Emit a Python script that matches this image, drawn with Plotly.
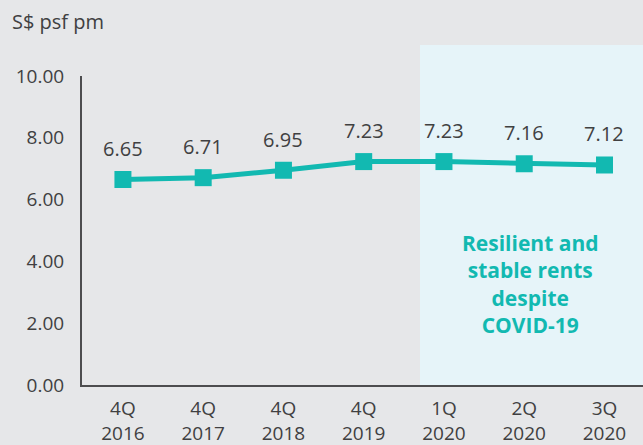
import plotly.graph_objects as go

categories = ["4Q<br>2016", "4Q<br>2017", "4Q<br>2018", "4Q<br>2019", "1Q<br>2020", "2Q<br>2020", "3Q<br>2020"]
rents = [6.65, 6.71, 6.95, 7.23, 7.23, 7.16, 7.12]
y_ticks = [0, 2, 4, 6, 8, 10]
y_tick_labels = ["0.00", "2.00", "4.00", "6.00", "8.00", "10.00"]

teal = "#12B9B1"
txt = "#404041"
bg = "#E6E7E9"
font_family = "Open Sans, Noto Sans, sans-serif"

fig = go.Figure()
fig.add_trace(go.Scatter(
    x=list(range(len(categories))), y=rents, mode="lines+markers",
    line=dict(color=teal, width=5),
    marker=dict(symbol="square", size=17, color=teal),
    hoverinfo="skip", showlegend=False,
))

for i, v in enumerate(rents):
    fig.add_annotation(x=i, y=v, text=f"{v:.2f}", showarrow=False, yshift=31,
                       font=dict(size=20, color=txt, family=font_family))

fig.add_shape(type="rect", xref="paper", yref="paper", x0=0.6025, x1=1.0, y0=0, y1=1.1003,
              fillcolor="#E6F4F9", line=dict(width=0), layer="below")

fig.add_annotation(xref="paper", yref="paper", x=0.8, y=0.327, xanchor="center", yanchor="middle",
                   showarrow=False,
                   text="<b>Resilient and<br>stable rents<br>despite<br>COVID-19</b>",
                   align="center", font=dict(size=21, color=teal, family=font_family))

fig.add_annotation(xref="paper", yref="paper", x=-0.128, y=1.175, xanchor="left", yanchor="middle",
                   showarrow=False, text="S$ psf pm",
                   font=dict(size=20, color=txt, family=font_family))

fig.update_layout(
    width=643, height=445,
    margin=dict(l=82, r=0, t=76, b=60),
    paper_bgcolor=bg, plot_bgcolor="rgba(0,0,0,0)",
    font=dict(family=font_family, color=txt),
    xaxis=dict(range=[-0.51, 6.48], tickvals=list(range(len(categories))), ticktext=categories,
               showgrid=False, zeroline=False, showline=True, linecolor="#4D4D4F", linewidth=2,
               ticks="", tickfont=dict(size=19, color=txt), ticklabelstandoff=5,
               automargin=False, fixedrange=True),
    yaxis=dict(range=[0, 10], tickvals=y_ticks, ticktext=y_tick_labels,
               showgrid=False, zeroline=False, showline=True, linecolor="#4D4D4F", linewidth=2,
               ticks="", tickfont=dict(size=19, color=txt), ticklabelstandoff=12,
               automargin=False, fixedrange=True),
)

fig.write_html("out.html", config={"displayModeBar": False},
               post_script="document.body.style.margin='0';")
